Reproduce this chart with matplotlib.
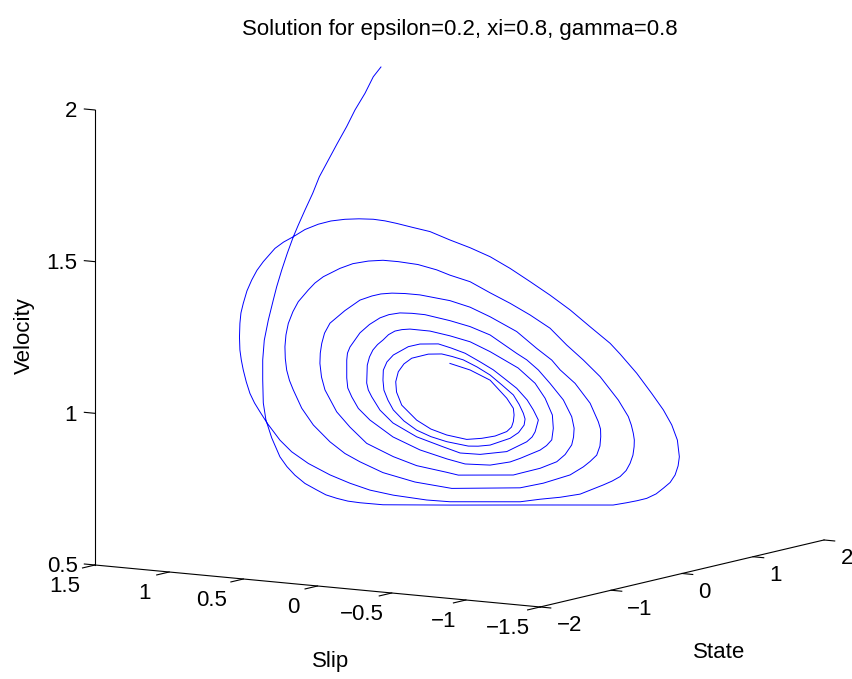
import matplotlib
matplotlib.use('Agg')
import matplotlib.pyplot as plt
from matplotlib.transforms import Affine2D

plt.rcParams['font.family'] = ['Liberation Sans', 'DejaVu Sans']

# solution, one row per stretch of the spiral
state = [0.983, 0.873, 0.754, 0.611, 0.492, 0.358, 0.229, 0.100, 0.005, -0.106, -0.202, -0.275, -0.361, -0.442, -0.515, -0.565, -0.637, -0.696,
         -0.716, -0.716, -0.714, -0.704, -0.683, -0.653, -0.628, -0.599, -0.562, -0.520, -0.486, -0.447, -0.406, -0.362, -0.278, -0.035, 0.293, 0.559, 0.608, 0.646, 0.681, 0.715, 0.742, 0.766, 0.784, 0.795, 0.800, 0.793, 0.772, 0.742, 0.699, 0.645,
         0.584, 0.548, 0.475, 0.402, 0.329, 0.257, 0.184, 0.111, 0.038, -0.035, -0.107, -0.169, -0.229, -0.271, -0.314, -0.366, -0.417, -0.468, -0.514, -0.562, -0.605, -0.640, -0.671, -0.714, -0.737, -0.756, -0.773, -0.787, -0.795, -0.799, -0.801, -0.799, -0.794, -0.787, -0.776, -0.762, -0.746, -0.726, -0.699, -0.653, -0.611, -0.550, -0.471, -0.398, -0.326, -0.241, -0.119, -0.035,
         0.220, 0.293, 0.366, 0.439, 0.523, 0.555, 0.584, 0.606, 0.620, 0.631, 0.635, 0.636, 0.632, 0.625, 0.614, 0.578, 0.511, 0.451, 0.390, 0.329, 0.257, 0.184, 0.111, 0.038, -0.035, -0.083, -0.151, -0.223, -0.278, -0.332, -0.388, -0.435, -0.496, -0.526, -0.550, -0.587, -0.606, -0.623, -0.631, -0.635, -0.634, -0.629, -0.619, -0.605, -0.574, -0.532, -0.471, -0.417, -0.362, -0.278, -0.162, -0.028,
         0.220, 0.305, 0.402, 0.451, 0.475, 0.499, 0.511, 0.514, 0.513, 0.505, 0.475, 0.420, 0.366, 0.336, 0.281, 0.208, 0.111, 0.038, -0.035, -0.144, -0.198, -0.246, -0.286, -0.318, -0.362, -0.417, -0.471, -0.491, -0.501, -0.507, -0.508, -0.502, -0.489, -0.447, -0.398, -0.338, -0.241, -0.156, -0.047, -0.004,
         0.196, 0.220, 0.293, 0.354, 0.384, 0.408, 0.415, 0.417, 0.408, 0.378, 0.329, 0.287, 0.245, 0.208, 0.111, 0.038, -0.035, -0.126, -0.173, -0.217, -0.257, -0.289, -0.328, -0.362, -0.398, -0.408, -0.410, -0.410, -0.406, -0.392, -0.368, -0.326, -0.242, -0.144, -0.045, 0.020, 0.111, 0.184, 0.220, 0.293, 0.317, 0.336, 0.341, 0.338, 0.311, 0.275, 0.213, 0.111, 0.038, -0.035, -0.107, -0.180, -0.209, -0.235, -0.258, -0.278, -0.298, -0.315, -0.328, -0.336, -0.338, -0.332, -0.320, -0.289, -0.242, -0.156, -0.060, 0.002,
         0.075, 0.172, 0.245, 0.264, 0.275, 0.287, 0.269, 0.246, 0.208, 0.166, 0.123, 0.075, 0.020, -0.031, -0.077, -0.144, -0.186, -0.241, -0.264, -0.277, -0.278, -0.275, -0.260, -0.241, -0.202, -0.156, -0.104, -0.047, 0.032, 0.067, 0.111, 0.184, 0.215, 0.235, 0.238, 0.232, 0.217, 0.196, 0.155, 0.111, 0.064, 0.014, -0.027, -0.065, -0.114, -0.174, -0.202, -0.223, -0.232, -0.229, -0.210, -0.156, -0.104, -0.047, 0.026, 0.081, 0.129, 0.172, 0.189, 0.196, 0.198, 0.196, 0.172, 0.111, 0.038, -0.035]

slip = [1.000, 0.999, 0.998, 0.997, 0.996, 0.995, 0.994, 0.993, 0.992, 0.991, 0.990, 0.989, 0.988, 0.987, 0.986, 0.985, 0.984, 0.983,
        0.984, 0.984, 0.981, 0.968, 0.939, 0.898, 0.863, 0.823, 0.773, 0.714, 0.668, 0.614, 0.558, 0.498, 0.383, 0.048, -0.403, -0.768, -0.836, -0.888, -0.936, -0.983, -1.019, -1.053, -1.078, -1.093, -1.099, -1.089, -1.061, -1.019, -0.961, -0.886,
        -0.803, -0.753, -0.653, -0.553, -0.453, -0.353, -0.253, -0.153, -0.053, 0.048, 0.148, 0.233, 0.314, 0.373, 0.431, 0.503, 0.573, 0.643, 0.706, 0.773, 0.831, 0.880, 0.923, 0.981, 1.013, 1.039, 1.063, 1.081, 1.093, 1.098, 1.100, 1.098, 1.091, 1.081, 1.066, 1.048, 1.025, 0.998, 0.961, 0.898, 0.839, 0.756, 0.648, 0.548, 0.448, 0.331, 0.164, 0.048,
        -0.303, -0.403, -0.503, -0.603, -0.719, -0.763, -0.803, -0.833, -0.853, -0.867, -0.873, -0.874, -0.869, -0.859, -0.844, -0.794, -0.703, -0.619, -0.536, -0.453, -0.353, -0.253, -0.153, -0.053, 0.048, 0.114, 0.208, 0.306, 0.383, 0.456, 0.533, 0.598, 0.681, 0.723, 0.756, 0.806, 0.833, 0.856, 0.868, 0.873, 0.871, 0.864, 0.850, 0.831, 0.789, 0.731, 0.648, 0.573, 0.498, 0.383, 0.223, 0.039,
        -0.303, -0.419, -0.553, -0.619, -0.653, -0.686, -0.702, -0.706, -0.705, -0.694, -0.653, -0.578, -0.503, -0.461, -0.386, -0.286, -0.153, -0.053, 0.048, 0.198, 0.273, 0.338, 0.393, 0.438, 0.498, 0.573, 0.648, 0.675, 0.689, 0.696, 0.698, 0.690, 0.673, 0.614, 0.548, 0.464, 0.331, 0.214, 0.064, 0.006,
        -0.269, -0.303, -0.403, -0.486, -0.528, -0.561, -0.570, -0.573, -0.561, -0.519, -0.453, -0.394, -0.336, -0.286, -0.153, -0.053, 0.048, 0.173, 0.238, 0.298, 0.353, 0.398, 0.450, 0.498, 0.548, 0.560, 0.564, 0.564, 0.559, 0.539, 0.506, 0.448, 0.333, 0.198, 0.063, -0.028, -0.153, -0.253, -0.303, -0.403, -0.435, -0.461, -0.469, -0.464, -0.428, -0.378, -0.293, -0.153, -0.053, 0.048, 0.148, 0.248, 0.288, 0.323, 0.355, 0.383, 0.410, 0.433, 0.450, 0.461, 0.464, 0.456, 0.439, 0.398, 0.333, 0.214, 0.083, -0.003,
        -0.103, -0.236, -0.336, -0.363, -0.378, -0.394, -0.369, -0.338, -0.286, -0.228, -0.169, -0.103, -0.028, 0.043, 0.106, 0.198, 0.256, 0.331, 0.363, 0.381, 0.383, 0.378, 0.358, 0.331, 0.278, 0.214, 0.143, 0.064, -0.044, -0.093, -0.153, -0.253, -0.295, -0.323, -0.328, -0.319, -0.298, -0.269, -0.213, -0.153, -0.088, -0.019, 0.038, 0.089, 0.156, 0.239, 0.278, 0.306, 0.319, 0.315, 0.289, 0.214, 0.143, 0.064, -0.036, -0.111, -0.178, -0.236, -0.260, -0.269, -0.273, -0.269, -0.236, -0.153, -0.053, 0.048]

velocity = [2.000, 1.974, 1.926, 1.879, 1.831, 1.783, 1.735, 1.687, 1.638, 1.589, 1.545, 1.510, 1.461, 1.410, 1.359, 1.318, 1.256, 1.193,
            1.129, 1.063, 0.987, 0.931, 0.872, 0.810, 0.778, 0.750, 0.723, 0.702, 0.686, 0.675, 0.666, 0.661, 0.655, 0.656, 0.659, 0.661, 0.669, 0.676, 0.684, 0.699, 0.718, 0.737, 0.762, 0.792, 0.822, 0.877, 0.927, 0.976, 1.030, 1.096,
            1.159, 1.194, 1.248, 1.303, 1.351, 1.395, 1.438, 1.476, 1.505, 1.530, 1.557, 1.570, 1.583, 1.591, 1.596, 1.597, 1.595, 1.589, 1.578, 1.560, 1.536, 1.518, 1.497, 1.453, 1.424, 1.392, 1.356, 1.315, 1.283, 1.249, 1.204, 1.161, 1.128, 1.095, 1.056, 1.018, 0.987, 0.958, 0.920, 0.865, 0.827, 0.789, 0.752, 0.725, 0.703, 0.687, 0.672, 0.667,
            0.669, 0.678, 0.685, 0.696, 0.727, 0.740, 0.755, 0.775, 0.799, 0.826, 0.854, 0.876, 0.898, 0.925, 0.953, 1.007, 1.084, 1.138, 1.187, 1.242, 1.285, 1.323, 1.357, 1.393, 1.414, 1.431, 1.448, 1.457, 1.461, 1.458, 1.449, 1.433, 1.405, 1.384, 1.361, 1.322, 1.289, 1.250, 1.212, 1.173, 1.134, 1.096, 1.062, 1.031, 0.971, 0.916, 0.861, 0.823, 0.796, 0.761, 0.731, 0.711,
            0.715, 0.731, 0.759, 0.786, 0.804, 0.825, 0.855, 0.886, 0.911, 0.935, 0.996, 1.061, 1.105, 1.137, 1.175, 1.230, 1.278, 1.309, 1.330, 1.348, 1.352, 1.353, 1.350, 1.343, 1.329, 1.294, 1.252, 1.219, 1.185, 1.153, 1.119, 1.074, 1.032, 0.960, 0.910, 0.857, 0.814, 0.785, 0.764, 0.755,
            0.757, 0.763, 0.780, 0.802, 0.826, 0.858, 0.884, 0.913, 0.951, 1.006, 1.060, 1.104, 1.137, 1.158, 1.218, 1.245, 1.264, 1.283, 1.287, 1.288, 1.282, 1.271, 1.249, 1.221, 1.174, 1.154, 1.131, 1.072, 1.039, 1.010, 0.972, 0.934, 0.879, 0.837, 0.808, 0.792, 0.789, 0.800, 0.812, 0.840, 0.855, 0.874, 0.912, 0.956, 1.011, 1.060, 1.110, 1.163, 1.195, 1.214, 1.229, 1.235, 1.233, 1.228, 1.216, 1.198, 1.183, 1.165, 1.142, 1.115, 1.056, 1.033, 1.011, 0.967, 0.925, 0.880, 0.848, 0.828,
            0.824, 0.834, 0.867, 0.883, 0.900, 0.939, 0.972, 1.005, 1.043, 1.073, 1.103, 1.129, 1.157, 1.174, 1.187, 1.186, 1.177, 1.149, 1.126, 1.099, 1.066, 1.033, 1.000, 0.968, 0.932, 0.902, 0.881, 0.865, 0.851, 0.851, 0.855, 0.878, 0.897, 0.922, 0.942, 0.961, 0.990, 1.021, 1.053, 1.086, 1.112, 1.135, 1.146, 1.154, 1.153, 1.139, 1.120, 1.094, 1.061, 1.027, 0.984, 0.935, 0.906, 0.887, 0.873, 0.877, 0.885, 0.900, 0.915, 0.933, 0.955, 0.977, 1.010, 1.069, 1.102, 1.123]

state_ticks = [-2, -1, 0, 1, 2]
state_labels = ['\u22122', '\u22121', '0', '1', '2']
slip_ticks = [-1.5, -1, -0.5, 0, 0.5, 1, 1.5]
slip_labels = ['\u22121.5', '\u22121', '\u22120.5', '0', '0.5', '1', '1.5']
velocity_ticks = [0.5, 1, 1.5, 2]
velocity_labels = ['0.5', '1', '1.5', '2']

fig = plt.figure(figsize=(8.53, 6.79), dpi=100)
ax = fig.add_axes([21.7 / 853, -83.8 / 679, 852.6 / 853, 852.6 / 679], projection='3d', proj_type='ortho')
ax.view_init(elev=8.58, azim=-147.7)
ax.set_box_aspect((531.4, 526.6, 460.2))

ax.plot(state, slip, velocity, color='#0000ff', linewidth=0.7)

ax.set_xlim(-2, 2, view_margin=0)
ax.set_ylim(-1.5, 1.5, view_margin=0)
ax.set_zlim(0.5, 2, view_margin=0)
ax.set_xticks(state_ticks)
ax.set_yticks(slip_ticks)
ax.set_zticks(velocity_ticks)
ax.set_xticklabels(state_labels, fontsize=16, ha='left', va='center')
ax.set_yticklabels(slip_labels, fontsize=16, ha='right', va='center')
ax.set_zticklabels(velocity_labels, fontsize=16, ha='right', va='center')

# only the three axis lines, like the old matlab box
ax.grid(False)
ax.patch.set_alpha(0)
for axis in [ax.xaxis, ax.yaxis, ax.zaxis]:
    axis.set_pane_color((1, 1, 1, 0))
    axis.pane.set_edgecolor('none')
    axis.line.set_color('black')
    axis.line.set_linewidth(0.8)
    axis._axinfo['tick']['inward_factor'] = 0
    axis._axinfo['tick']['linewidth'] = {True: 0.8, False: 0.8}
ax.xaxis._axinfo['tick']['outward_factor'] = -0.3
ax.yaxis._axinfo['tick']['outward_factor'] = -0.55
ax.zaxis._axinfo['tick']['outward_factor'] = 0.3
# velocity ticks point along the slip axis here
ax.zaxis._get_tickdir = lambda position: 1


# nudge the tick labels in pixels. Axis3D resets label transforms in
# get_major_ticks, so the offset has to go in after that call
def shift_labels(axis, dx, dy):
    orig_get_major_ticks = axis.get_major_ticks

    def get_major_ticks(numticks=None):
        ticks = orig_get_major_ticks(numticks)
        for tick, d in zip(ticks, dx):
            tick.label1.set_transform(ax.transData + Affine2D().translate(d, dy))
        return ticks

    axis.get_major_ticks = get_major_ticks


shift_labels(ax.xaxis, [1, 0, 0, 0, 1], -1)
shift_labels(ax.yaxis, [0, 1, 2, -8, -6, -8, -5], -3)
shift_labels(ax.zaxis, [9, 8, 8, 8], -1)

fig.text(460 / 853, 1 - 29 / 679, 'Solution for epsilon=0.2, xi=0.8, gamma=0.8', fontsize=16, ha='center', va='center')
fig.text(331 / 853, 1 - 662 / 679, 'Slip', fontsize=16, ha='center', va='center')
fig.text(719 / 853, 1 - 653 / 679, 'State', fontsize=16, ha='center', va='center')
fig.text(24 / 853, 1 - 336 / 679, 'Velocity', fontsize=16, ha='center', va='center', rotation=90)

fig.savefig('out.png', dpi=100)
